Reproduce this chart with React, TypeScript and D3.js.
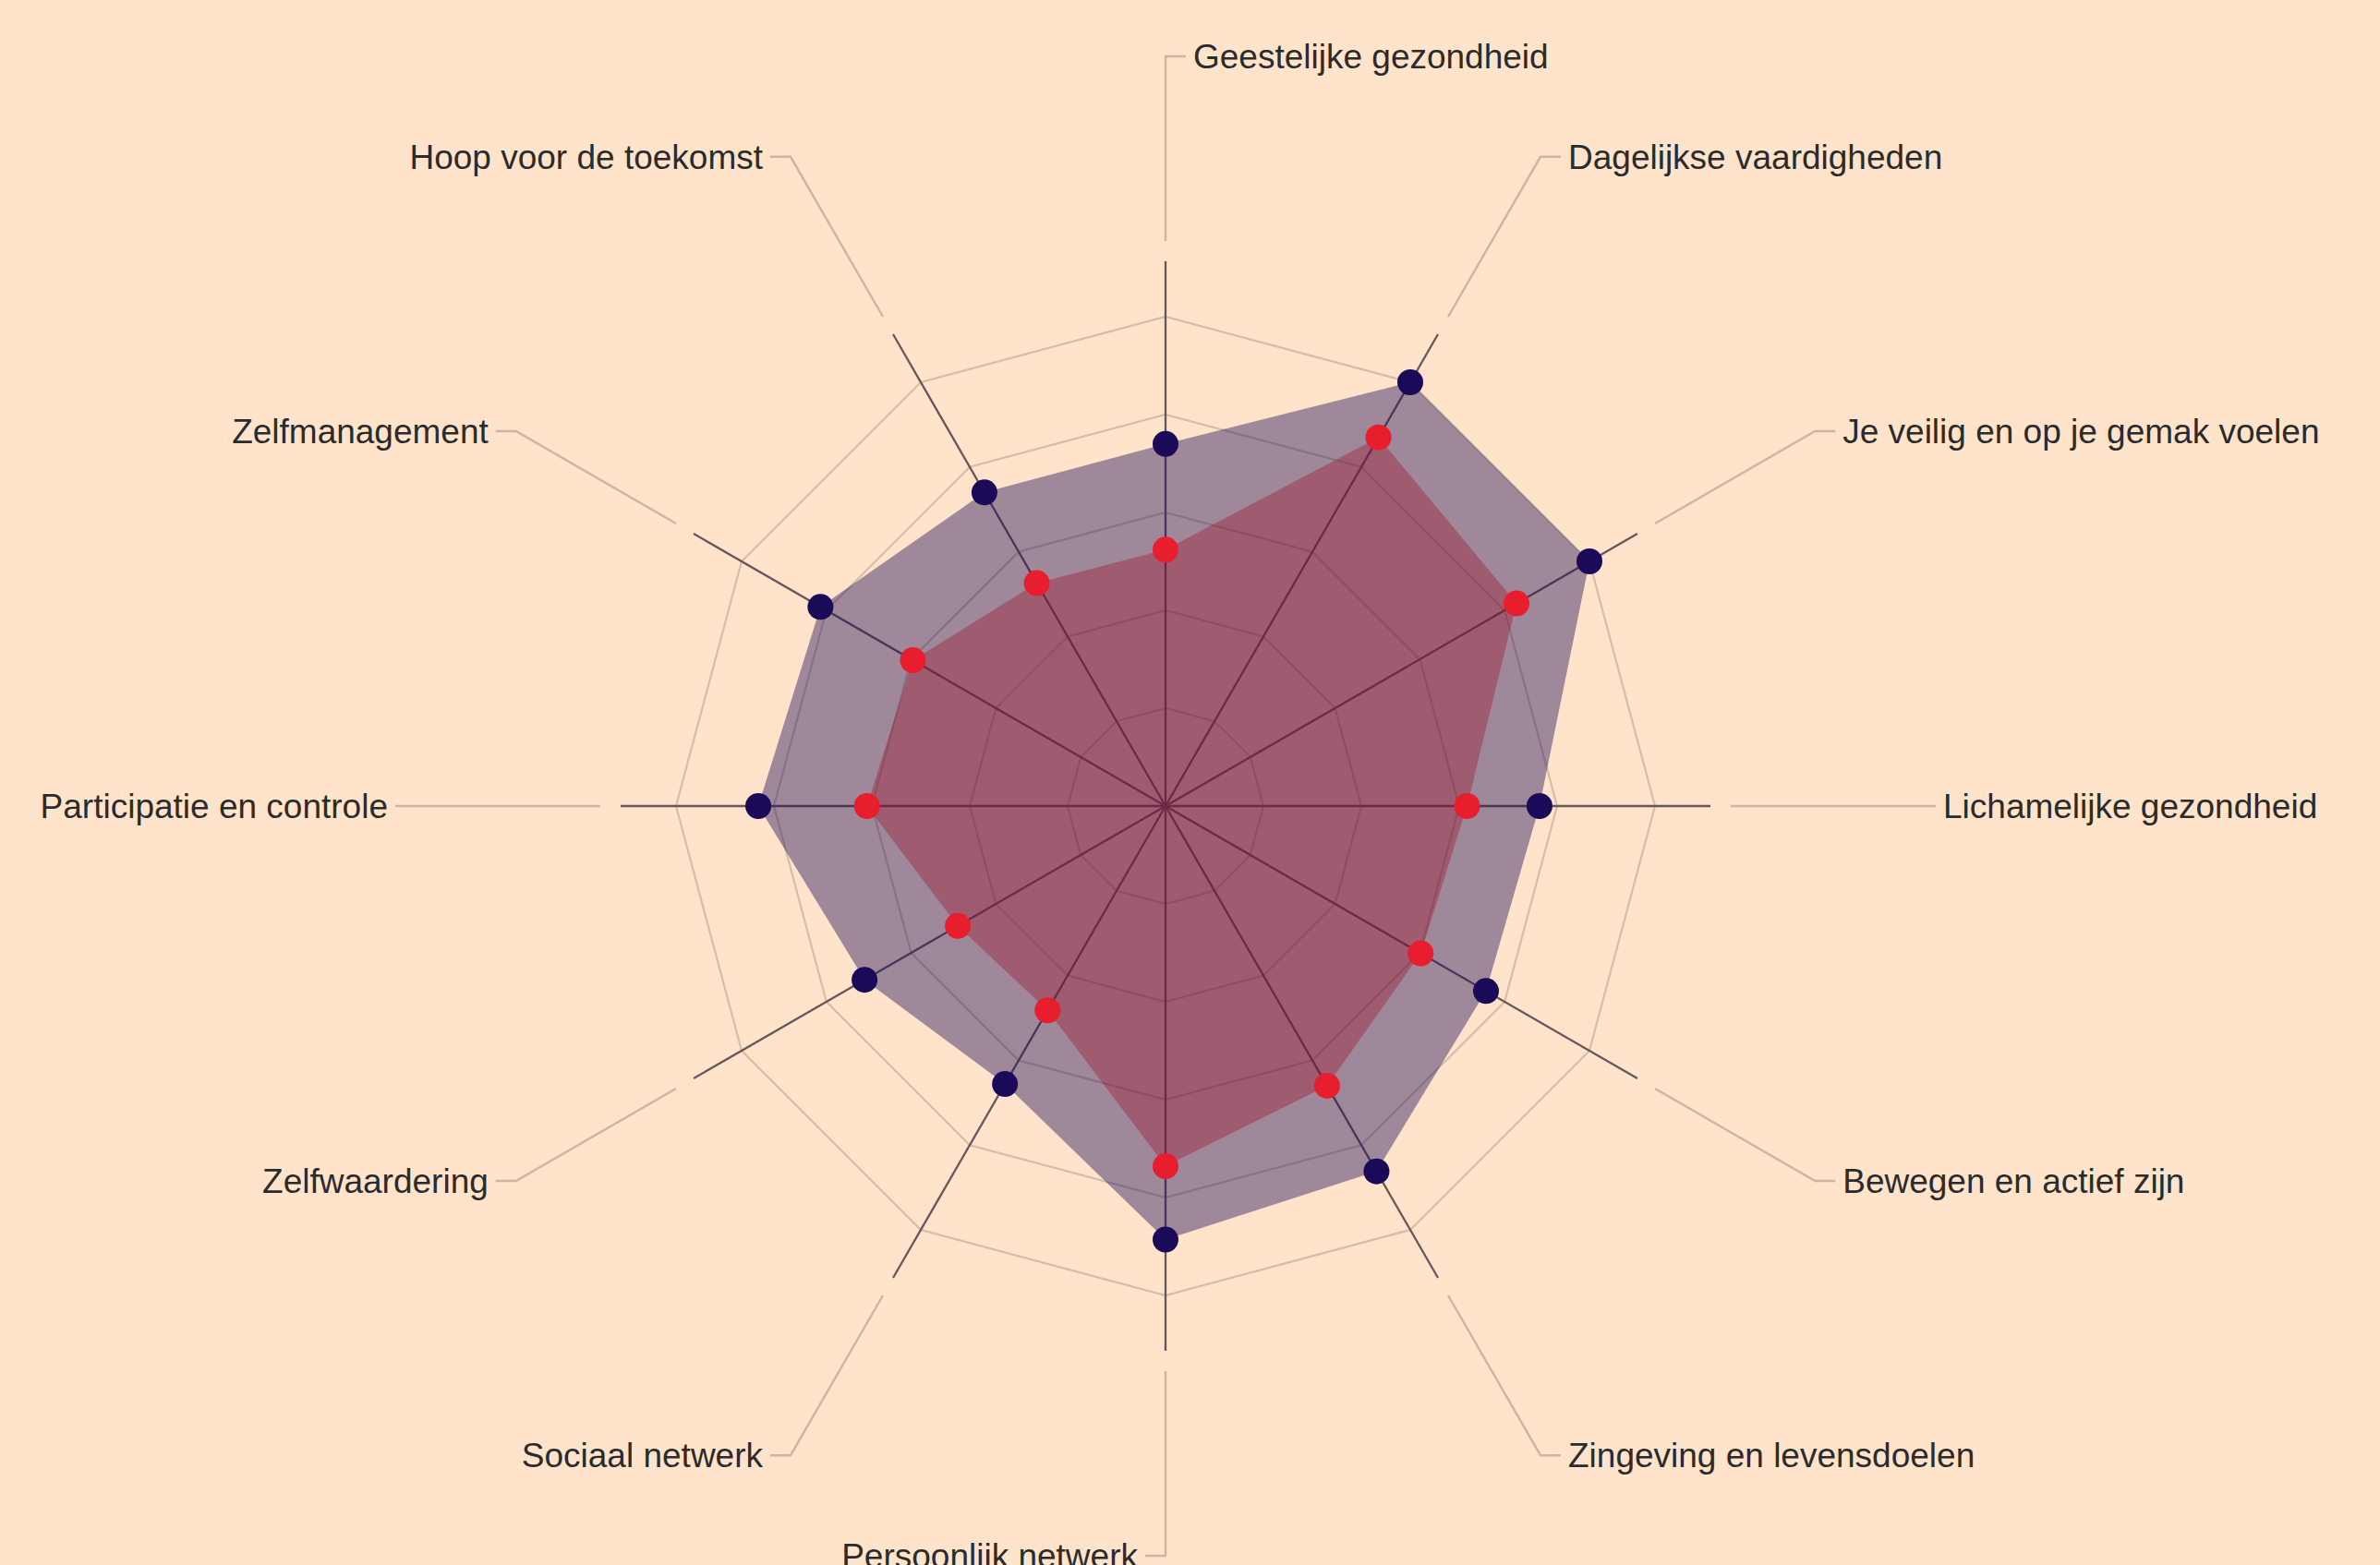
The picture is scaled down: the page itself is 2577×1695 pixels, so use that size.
import React from "react";
import * as d3 from "d3";

const categories = [
  "Geestelijke gezondheid",
  "Dagelijkse vaardigheden",
  "Je veilig en op je gemak voelen",
  "Lichamelijke gezondheid",
  "Bewegen en actief zijn",
  "Zingeving en levensdoelen",
  "Persoonlijk netwerk",
  "Sociaal netwerk",
  "Zelfwaardering",
  "Participatie en controle",
  "Zelfmanagement",
  "Hoop voor de toekomst",
];

const seriesBlue = [3.7, 5.0, 5.0, 3.82, 3.78, 4.31, 4.43, 3.28, 3.55, 4.16, 4.07, 3.7];
const seriesRed = [2.62, 4.35, 4.14, 3.08, 3.01, 3.3, 3.68, 2.41, 2.45, 3.05, 2.98, 2.63];
const levels = [1, 2, 3, 4, 5];

const W = 2577;
const H = 1695;
const CX = 1262;
const CY = 873;
const R = 530;
const AXIS_LEN = 590;
const LEADER_START = 612;
const LEADER_END = 812;
const TICK = 22;
const GAP = 8;

const BG = "#FFE3CA";
const GRID = "#d5bea8";
const LEADER = "#cdb59e";
const AXIS = "#66585a";
const BLUE = "#1b0a57";
const RED = "#e81d2d";

export default function App() {
  const n = categories.length;
  const angle = d3
    .scaleLinear()
    .domain([0, n])
    .range([0, 2 * Math.PI]);
  const r = d3.scaleLinear().domain([0, 5]).range([0, R]);

  const radial = d3
    .lineRadial<number>()
    .angle((_, i) => angle(i))
    .radius((d) => r(d))
    .curve(d3.curveLinearClosed);

  const pt = (i: number, rad: number): [number, number] => {
    const a = angle(i);
    return [rad * Math.sin(a), -rad * Math.cos(a)];
  };

  return (
    <svg
      width={W}
      height={H}
      style={{ position: "absolute", left: 0, top: 0, display: "block" }}
    >
      <rect x={0} y={0} width={W} height={H} fill={BG} />
      <g transform={`translate(${CX},${CY})`}>
        {levels.map((lv) => (
          <path
            key={lv}
            d={radial(categories.map(() => lv)) || ""}
            fill="none"
            stroke={GRID}
            strokeWidth={2.2}
          />
        ))}
        {categories.map((c, i) => {
          const [x, y] = pt(i, AXIS_LEN);
          return (
            <line key={c} x1={0} y1={0} x2={x} y2={y} stroke={AXIS} strokeWidth={2.3} />
          );
        })}
        {categories.map((c, i) => {
          const a = angle(i);
          const right = a < Math.PI - 1e-6;
          const [x0, y0] = pt(i, LEADER_START);
          const [x1, y1] = pt(i, LEADER_END);
          const x2 = x1 + (right ? TICK : -TICK);
          const tx = x2 + (right ? GAP : -GAP);
          return (
            <g key={c}>
              <polyline
                points={`${x0},${y0} ${x1},${y1} ${x2},${y1}`}
                fill="none"
                stroke={LEADER}
                strokeWidth={2.4}
              />
              <text
                x={tx}
                y={y1}
                dy="0.35em"
                textAnchor={right ? "start" : "end"}
                fontFamily="'Liberation Sans', Arial, sans-serif"
                fontSize={37}
                fill="#2b2b2b"
              >
                {c}
              </text>
            </g>
          );
        })}
        <path d={radial(seriesBlue) || ""} fill={BLUE} fillOpacity={0.42} stroke="none" />
        <path d={radial(seriesRed) || ""} fill="#a01a30" fillOpacity={0.4} stroke="none" />
        {seriesBlue.map((v, i) => {
          const [x, y] = pt(i, r(v));
          return <circle key={"b" + i} cx={x} cy={y} r={14} fill={BLUE} />;
        })}
        {seriesRed.map((v, i) => {
          const [x, y] = pt(i, r(v));
          return <circle key={"r" + i} cx={x} cy={y} r={14} fill={RED} />;
        })}
      </g>
    </svg>
  );
}
